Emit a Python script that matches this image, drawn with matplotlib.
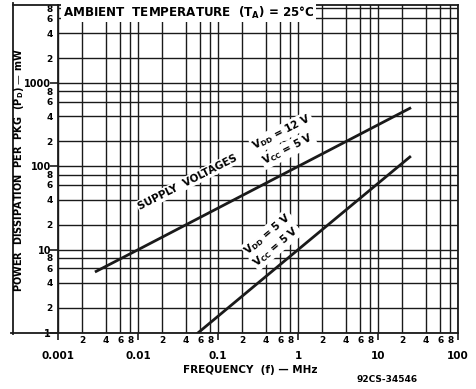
import numpy as np
import matplotlib
matplotlib.use("Agg")
import matplotlib.pyplot as plt
from matplotlib.ticker import LogLocator, FuncFormatter
from matplotlib.lines import Line2D

# Data
freq_12v = [0.003, 0.01, 1, 25]      # MHz
power_12v = [5.5, 10, 100, 500]      # mW
freq_5v = [0.056, 1, 25]
power_5v = [1, 10, 130]

x_major = [0.001, 0.01, 0.1, 1, 10, 100]
y_major = [1, 10, 100, 1000]

plt.rcParams['font.family'] = ['DejaVu Sans']
plt.rcParams['font.weight'] = 'bold'
plt.rcParams['mathtext.default'] = 'bf'
ink = '#1a1a1a'

fig = plt.figure(figsize=(4.77, 3.89), dpi=100)
W, H = 477, 389
ax = fig.add_axes([58 / W, (H - 333) / H, 400 / W, 328 / H])

ax.set_xscale('log')
ax.set_yscale('log')
ax.set_xlim(0.001, 100)
ax.set_ylim(1, 8700)

ax.plot(freq_12v, power_12v, color=ink, lw=2.0, zorder=3)
ax.plot(freq_5v, power_5v, color=ink, lw=2.0, zorder=3)

# ticks: minor 2,4,6,8 in each decade
for axis in (ax.xaxis, ax.yaxis):
    axis.set_minor_locator(LogLocator(base=10, subs=[2, 4, 6, 8]))
    axis.set_minor_formatter(FuncFormatter(
        lambda v, p: str(int(round(v / 10 ** np.floor(np.log10(v) + 1e-9))))))
ax.set_xticks(x_major)
ax.set_yticks(y_major)
ax.xaxis.set_major_formatter(FuncFormatter(lambda v, p: f'{v:g}'))
ax.yaxis.set_major_formatter(FuncFormatter(lambda v, p: f'{v:g}'))

ax.tick_params(which='major', axis='x', length=5, width=1.2, color=ink,
               labelsize=7.5, pad=8)
ax.tick_params(which='minor', axis='x', length=0, labelsize=6.5, pad=2)
ax.tick_params(which='major', axis='y', length=6, width=1.2, color=ink,
               labelsize=7, pad=-1)
ax.tick_params(which='minor', axis='y', length=0, labelsize=6.5, pad=4)

ax.grid(True, which='both', color=ink, lw=1.0)
for s in ax.spines.values():
    s.set_color(ink)
    s.set_linewidth(1.3)

# labels inside the chart
box = dict(facecolor='white', edgecolor='none', pad=1.0)
ax.text(0.00115, 7000, 'AMBIENT  TEMPERATURE  (T$_A$) = 25°C', fontsize=8.6,
        ha='left', va='center', bbox=box, zorder=4)
ax.text(0.042, 65, 'SUPPLY  VOLTAGES', fontsize=7.5, rotation=27,
        ha='center', va='center', rotation_mode='anchor', bbox=box, zorder=4)
ax.text(0.63, 255, 'V$_{DD}$ = 12 V', fontsize=7.5, rotation=27,
        ha='center', va='center', rotation_mode='anchor', bbox=box, zorder=4)
ax.text(0.75, 160, 'V$_{CC}$ = 5 V', fontsize=7.5, rotation=27,
        ha='center', va='center', rotation_mode='anchor', bbox=box, zorder=4)
ax.text(0.42, 15.5, 'V$_{DD}$ = 5 V', fontsize=7.5, rotation=40,
        ha='center', va='center', rotation_mode='anchor', bbox=box, zorder=4)
ax.text(0.53, 11, 'V$_{CC}$ = 5 V', fontsize=7.5, rotation=40,
        ha='center', va='center', rotation_mode='anchor', bbox=box, zorder=4)

# outer frame around the y label
fig.add_artist(Line2D([13 / W, 13 / W], [(H - 334) / H, 1 - 3 / H],
                      color=ink, lw=1.3))
fig.add_artist(Line2D([13 / W, 58 / W], [1 - 5 / H, 1 - 5 / H],
                      color=ink, lw=1.3))
fig.add_artist(Line2D([11 / W, 58 / W], [(H - 333) / H, (H - 333) / H],
                      color=ink, lw=1.3))

fig.text(19 / W, 1 - 170 / H, 'POWER  DISSIPATION  PER  PKG  (P$_D$) — mW',
         rotation=90, ha='center', va='center', fontsize=7)
fig.text(250 / W, 1 - 370 / H, 'FREQUENCY  (f) — MHz',
         ha='center', va='center', fontsize=7.5)
fig.text(387 / W, 1 - 380 / H, '92CS-34546',
         ha='center', va='center', fontsize=6.5)

fig.savefig('out.png', dpi=100)
